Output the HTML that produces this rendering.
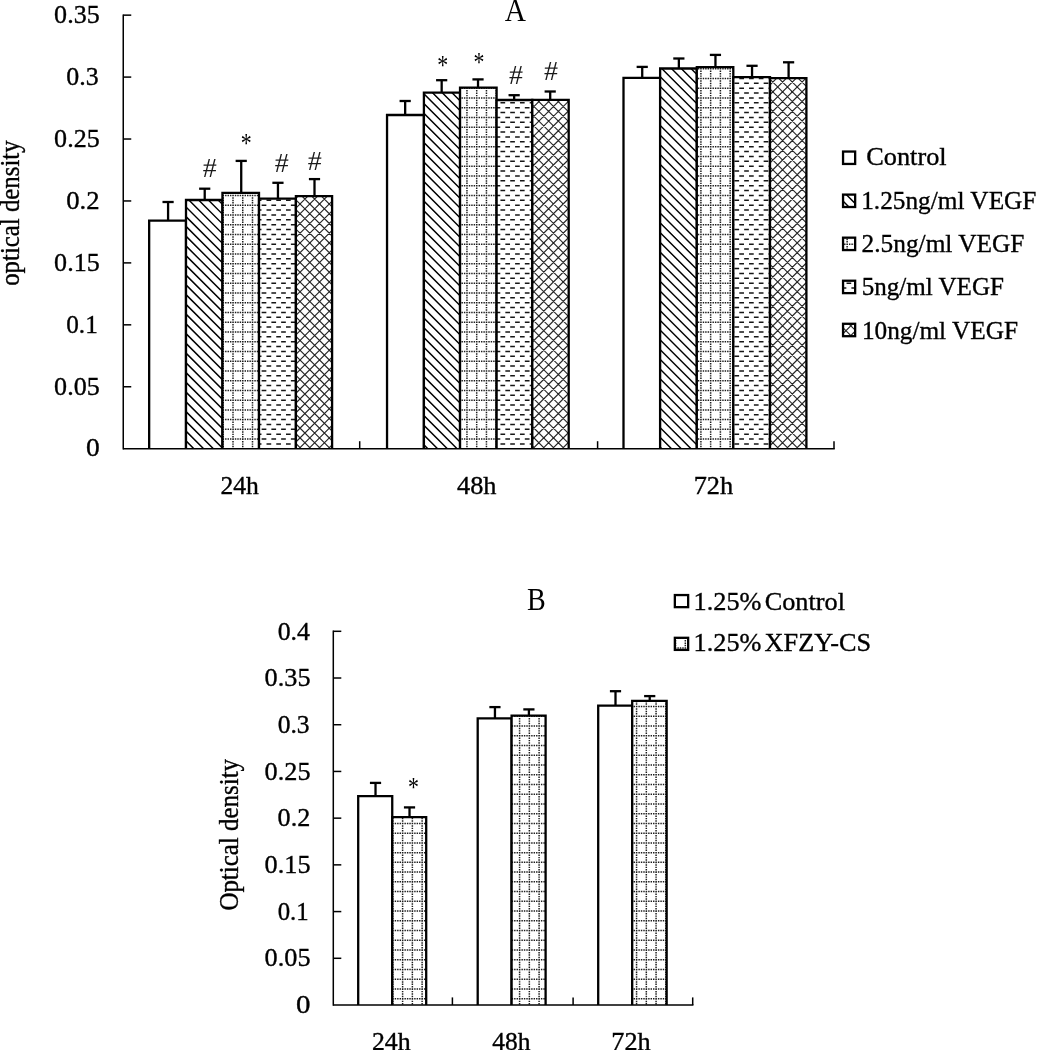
<!DOCTYPE html>
<html lang="en"><head><meta charset="utf-8"><title>Figure</title>
<style>html,body{margin:0;padding:0;background:#fff;}svg{display:block;}text{font-family:"Liberation Serif", "Times New Roman", Times, serif;fill:#000;stroke:#000;stroke-width:0.35px;}text.m{stroke:none;}text.h{fill:#1a1a1a;}</style></head><body>
<svg width="1037" height="1050" viewBox="0 0 1037 1050">
<rect x="0" y="0" width="1037" height="1050" fill="#fff"/>
<g id="chartA">
<text transform="translate(54.12 22.90) scale(1.0223 1)" font-size="25.5" >0.35</text>
<text transform="translate(66.23 84.84) scale(1.0168 1)" font-size="25.5" >0.3</text>
<text transform="translate(54.12 146.77) scale(1.0223 1)" font-size="25.5" >0.25</text>
<text transform="translate(66.20 208.71) scale(1.0469 1)" font-size="25.5" >0.2</text>
<text transform="translate(54.12 270.64) scale(1.0223 1)" font-size="25.5" >0.15</text>
<text transform="translate(66.25 332.58) scale(0.9902 1)" font-size="25.5" >0.1</text>
<text transform="translate(54.12 394.51) scale(1.0223 1)" font-size="25.5" >0.05</text>
<text transform="translate(85.97 456.45) scale(1.0796 1)" font-size="25.5" >0</text>
<text x="0.00" y="0.00" font-size="25.15" text-anchor="start" transform="translate(19 285.8) rotate(-90) scale(0.987 1.06)">optical density</text>
<text transform="translate(515.4 20.8) scale(1.09 1.15)" font-size="27" text-anchor="middle" class="m">A</text>
<line x1="168.08" y1="220.70" x2="168.08" y2="202.00" stroke="#000" stroke-width="2.3" stroke-linecap="butt"/>
<line x1="162.48" y1="202.00" x2="173.68" y2="202.00" stroke="#000" stroke-width="2.3" stroke-linecap="butt"/>
<line x1="204.72" y1="200.00" x2="204.72" y2="188.70" stroke="#000" stroke-width="2.3" stroke-linecap="butt"/>
<line x1="199.12" y1="188.70" x2="210.32" y2="188.70" stroke="#000" stroke-width="2.3" stroke-linecap="butt"/>
<line x1="241.22" y1="192.80" x2="241.22" y2="160.90" stroke="#000" stroke-width="2.3" stroke-linecap="butt"/>
<line x1="235.62" y1="160.90" x2="246.82" y2="160.90" stroke="#000" stroke-width="2.3" stroke-linecap="butt"/>
<line x1="277.95" y1="198.70" x2="277.95" y2="182.80" stroke="#000" stroke-width="2.3" stroke-linecap="butt"/>
<line x1="272.35" y1="182.80" x2="283.55" y2="182.80" stroke="#000" stroke-width="2.3" stroke-linecap="butt"/>
<line x1="314.50" y1="196.20" x2="314.50" y2="179.10" stroke="#000" stroke-width="2.3" stroke-linecap="butt"/>
<line x1="308.90" y1="179.10" x2="320.10" y2="179.10" stroke="#000" stroke-width="2.3" stroke-linecap="butt"/>
<rect x="149.16" y="220.70" width="36.84" height="228.00" fill="#fff"/>
<path d="M149.16,448.70V220.70H186.00V448.70" fill="none" stroke="#000" stroke-width="2.3" stroke-linejoin="miter"/>
<rect x="186.00" y="200.00" width="36.45" height="248.70" fill="#fff"/>
<clipPath id="c1"><rect x="186.00" y="200.00" width="36.45" height="248.70"/></clipPath>
<g clip-path="url(#c1)" fill="none" stroke="#000">
<path d="M185.00,166.91L223.45,205.36M185.00,176.66L223.45,215.11M185.00,186.41L223.45,224.86M185.00,196.16L223.45,234.61M185.00,205.91L223.45,244.36M185.00,215.65L223.45,254.10M185.00,225.40L223.45,263.85M185.00,235.15L223.45,273.60M185.00,244.90L223.45,283.35M185.00,254.65L223.45,293.10M185.00,264.39L223.45,302.84M185.00,274.14L223.45,312.59M185.00,283.89L223.45,322.34M185.00,293.64L223.45,332.09M185.00,303.39L223.45,341.84M185.00,313.13L223.45,351.58M185.00,322.88L223.45,361.33M185.00,332.63L223.45,371.08M185.00,342.38L223.45,380.83M185.00,352.13L223.45,390.58M185.00,361.87L223.45,400.32M185.00,371.62L223.45,410.07M185.00,381.37L223.45,419.82M185.00,391.12L223.45,429.57M185.00,400.87L223.45,439.32M185.00,410.61L223.45,449.06M185.00,420.36L223.45,458.81M185.00,430.11L223.45,468.56M185.00,439.86L223.45,478.31" stroke-width="1.45" stroke="#000"/>
</g>
<path d="M186.00,448.70V200.00H222.45V448.70" fill="none" stroke="#000" stroke-width="2.3" stroke-linejoin="miter"/>
<rect x="222.45" y="192.80" width="36.55" height="255.90" fill="#fff"/>
<clipPath id="c2"><rect x="222.45" y="192.80" width="36.55" height="255.90"/></clipPath>
<g clip-path="url(#c2)" fill="none" stroke="#000">
<path d="M220.21,195.42H260.00M220.21,205.17H260.00M220.21,214.92H260.00M220.21,224.66H260.00M220.21,234.41H260.00M220.21,244.16H260.00M220.21,253.91H260.00M220.21,263.66H260.00M220.21,273.40H260.00M220.21,283.15H260.00M220.21,292.90H260.00M220.21,302.65H260.00M220.21,312.40H260.00M220.21,322.14H260.00M220.21,331.89H260.00M220.21,341.64H260.00M220.21,351.39H260.00M220.21,361.14H260.00M220.21,370.88H260.00M220.21,380.63H260.00M220.21,390.38H260.00M220.21,400.13H260.00M220.21,409.88H260.00M220.21,419.62H260.00M220.21,429.37H260.00M220.21,439.12H260.00M220.21,448.87H260.00M223.25,192.37V449.70M233.00,192.37V449.70M242.75,192.37V449.70M252.50,192.37V449.70" stroke-width="1.5" stroke="#1e1e1e" stroke-dasharray="1.450 0.987"/>
</g>
<path d="M222.45,448.70V192.80H259.00V448.70" fill="none" stroke="#000" stroke-width="2.3" stroke-linejoin="miter"/>
<rect x="259.00" y="198.70" width="36.90" height="250.00" fill="#fff"/>
<clipPath id="c3"><rect x="259.00" y="198.70" width="36.90" height="250.00"/></clipPath>
<g clip-path="url(#c3)" fill="none" stroke="#000">
<path d="M242.14,205.17H296.90M242.14,214.92H296.90M242.14,224.66H296.90M242.14,234.41H296.90M242.14,244.16H296.90M242.14,253.91H296.90M242.14,263.66H296.90M242.14,273.40H296.90M242.14,283.15H296.90M242.14,292.90H296.90M242.14,302.65H296.90M242.14,312.40H296.90M242.14,322.14H296.90M242.14,331.89H296.90M242.14,341.64H296.90M242.14,351.39H296.90M242.14,361.14H296.90M242.14,370.88H296.90M242.14,380.63H296.90M242.14,390.38H296.90M242.14,400.13H296.90M242.14,409.88H296.90M242.14,419.62H296.90M242.14,429.37H296.90M242.14,439.12H296.90M242.14,448.87H296.90M247.01,200.29H296.90M247.01,210.04H296.90M247.01,219.79H296.90M247.01,229.54H296.90M247.01,239.29H296.90M247.01,249.03H296.90M247.01,258.78H296.90M247.01,268.53H296.90M247.01,278.28H296.90M247.01,288.03H296.90M247.01,297.77H296.90M247.01,307.52H296.90M247.01,317.27H296.90M247.01,327.02H296.90M247.01,336.77H296.90M247.01,346.51H296.90M247.01,356.26H296.90M247.01,366.01H296.90M247.01,375.76H296.90M247.01,385.51H296.90M247.01,395.25H296.90M247.01,405.00H296.90M247.01,414.75H296.90M247.01,424.50H296.90M247.01,434.25H296.90M247.01,443.99H296.90" stroke-width="1.5" stroke="#161616" stroke-dasharray="4.700 5.048"/>
</g>
<path d="M259.00,448.70V198.70H295.90V448.70" fill="none" stroke="#000" stroke-width="2.3" stroke-linejoin="miter"/>
<rect x="295.90" y="196.20" width="36.20" height="252.50" fill="#fff"/>
<clipPath id="c4"><rect x="295.90" y="196.20" width="36.20" height="252.50"/></clipPath>
<g clip-path="url(#c4)" fill="none" stroke="#000">
<path d="M294.90,159.84L333.10,198.04M294.90,169.59L333.10,207.79M294.90,179.33L333.10,217.53M294.90,189.08L333.10,227.28M294.90,198.83L333.10,237.03M294.90,208.58L333.10,246.78M294.90,218.33L333.10,256.53M294.90,228.07L333.10,266.27M294.90,237.82L333.10,276.02M294.90,247.57L333.10,285.77M294.90,257.32L333.10,295.52M294.90,267.07L333.10,305.27M294.90,276.81L333.10,315.01M294.90,286.56L333.10,324.76M294.90,296.31L333.10,334.51M294.90,306.06L333.10,344.26M294.90,315.81L333.10,354.01M294.90,325.55L333.10,363.75M294.90,335.30L333.10,373.50M294.90,345.05L333.10,383.25M294.90,354.80L333.10,393.00M294.90,364.55L333.10,402.75M294.90,374.29L333.10,412.49M294.90,384.04L333.10,422.24M294.90,393.79L333.10,431.99M294.90,403.54L333.10,441.74M294.90,413.29L333.10,451.49M294.90,423.03L333.10,461.23M294.90,432.78L333.10,470.98M294.90,442.53L333.10,480.73M294.90,199.32L333.10,161.12M294.90,209.07L333.10,170.87M294.90,218.82L333.10,180.62M294.90,228.57L333.10,190.37M294.90,238.31L333.10,200.11M294.90,248.06L333.10,209.86M294.90,257.81L333.10,219.61M294.90,267.56L333.10,229.36M294.90,277.31L333.10,239.11M294.90,287.05L333.10,248.85M294.90,296.80L333.10,258.60M294.90,306.55L333.10,268.35M294.90,316.30L333.10,278.10M294.90,326.05L333.10,287.85M294.90,335.79L333.10,297.59M294.90,345.54L333.10,307.34M294.90,355.29L333.10,317.09M294.90,365.04L333.10,326.84M294.90,374.79L333.10,336.59M294.90,384.53L333.10,346.33M294.90,394.28L333.10,356.08M294.90,404.03L333.10,365.83M294.90,413.78L333.10,375.58M294.90,423.53L333.10,385.33M294.90,433.27L333.10,395.07M294.90,443.02L333.10,404.82M294.90,452.77L333.10,414.57M294.90,462.52L333.10,424.32M294.90,472.27L333.10,434.07M294.90,482.01L333.10,443.81" stroke-width="1.15" stroke="#262626"/>
</g>
<path d="M295.90,448.70V196.20H332.10V448.70" fill="none" stroke="#000" stroke-width="2.3" stroke-linejoin="miter"/>
<line x1="405.17" y1="115.00" x2="405.17" y2="101.00" stroke="#000" stroke-width="2.3" stroke-linecap="butt"/>
<line x1="399.57" y1="101.00" x2="410.77" y2="101.00" stroke="#000" stroke-width="2.3" stroke-linecap="butt"/>
<line x1="441.67" y1="92.70" x2="441.67" y2="80.20" stroke="#000" stroke-width="2.3" stroke-linecap="butt"/>
<line x1="436.07" y1="80.20" x2="447.27" y2="80.20" stroke="#000" stroke-width="2.3" stroke-linecap="butt"/>
<line x1="478.02" y1="87.60" x2="478.02" y2="79.40" stroke="#000" stroke-width="2.3" stroke-linecap="butt"/>
<line x1="472.42" y1="79.40" x2="483.62" y2="79.40" stroke="#000" stroke-width="2.3" stroke-linecap="butt"/>
<line x1="514.15" y1="100.00" x2="514.15" y2="95.20" stroke="#000" stroke-width="2.3" stroke-linecap="butt"/>
<line x1="508.55" y1="95.20" x2="519.75" y2="95.20" stroke="#000" stroke-width="2.3" stroke-linecap="butt"/>
<line x1="550.20" y1="99.80" x2="550.20" y2="91.50" stroke="#000" stroke-width="2.3" stroke-linecap="butt"/>
<line x1="544.60" y1="91.50" x2="555.80" y2="91.50" stroke="#000" stroke-width="2.3" stroke-linecap="butt"/>
<rect x="387.04" y="115.00" width="36.86" height="333.70" fill="#fff"/>
<path d="M387.04,448.70V115.00H423.90V448.70" fill="none" stroke="#000" stroke-width="2.3" stroke-linejoin="miter"/>
<rect x="423.90" y="92.70" width="36.14" height="356.00" fill="#fff"/>
<clipPath id="c5"><rect x="423.90" y="92.70" width="36.14" height="356.00"/></clipPath>
<g clip-path="url(#c5)" fill="none" stroke="#000">
<path d="M422.90,63.63L461.04,101.77M422.90,73.38L461.04,111.52M422.90,83.13L461.04,121.27M422.90,92.88L461.04,131.02M422.90,102.63L461.04,140.77M422.90,112.37L461.04,150.51M422.90,122.12L461.04,160.26M422.90,131.87L461.04,170.01M422.90,141.62L461.04,179.76M422.90,151.37L461.04,189.51M422.90,161.11L461.04,199.25M422.90,170.86L461.04,209.00M422.90,180.61L461.04,218.75M422.90,190.36L461.04,228.50M422.90,200.11L461.04,238.25M422.90,209.85L461.04,247.99M422.90,219.60L461.04,257.74M422.90,229.35L461.04,267.49M422.90,239.10L461.04,277.24M422.90,248.85L461.04,286.99M422.90,258.59L461.04,296.73M422.90,268.34L461.04,306.48M422.90,278.09L461.04,316.23M422.90,287.84L461.04,325.98M422.90,297.59L461.04,335.73M422.90,307.33L461.04,345.47M422.90,317.08L461.04,355.22M422.90,326.83L461.04,364.97M422.90,336.58L461.04,374.72M422.90,346.33L461.04,384.47M422.90,356.07L461.04,394.21M422.90,365.82L461.04,403.96M422.90,375.57L461.04,413.71M422.90,385.32L461.04,423.46M422.90,395.07L461.04,433.21M422.90,404.81L461.04,442.95M422.90,414.56L461.04,452.70M422.90,424.31L461.04,462.45M422.90,434.06L461.04,472.20M422.90,443.81L461.04,481.95" stroke-width="1.45" stroke="#000"/>
</g>
<path d="M423.90,448.70V92.70H460.04V448.70" fill="none" stroke="#000" stroke-width="2.3" stroke-linejoin="miter"/>
<rect x="460.04" y="87.60" width="36.56" height="361.10" fill="#fff"/>
<clipPath id="c6"><rect x="460.04" y="87.60" width="36.56" height="361.10"/></clipPath>
<g clip-path="url(#c6)" fill="none" stroke="#000">
<path d="M459.03,88.19H497.60M459.03,97.94H497.60M459.03,107.69H497.60M459.03,117.44H497.60M459.03,127.18H497.60M459.03,136.93H497.60M459.03,146.68H497.60M459.03,156.43H497.60M459.03,166.18H497.60M459.03,175.92H497.60M459.03,185.67H497.60M459.03,195.42H497.60M459.03,205.17H497.60M459.03,214.92H497.60M459.03,224.66H497.60M459.03,234.41H497.60M459.03,244.16H497.60M459.03,253.91H497.60M459.03,263.66H497.60M459.03,273.40H497.60M459.03,283.15H497.60M459.03,292.90H497.60M459.03,302.65H497.60M459.03,312.40H497.60M459.03,322.14H497.60M459.03,331.89H497.60M459.03,341.64H497.60M459.03,351.39H497.60M459.03,361.14H497.60M459.03,370.88H497.60M459.03,380.63H497.60M459.03,390.38H497.60M459.03,400.13H497.60M459.03,409.88H497.60M459.03,419.62H497.60M459.03,429.37H497.60M459.03,439.12H497.60M459.03,448.87H497.60M466.95,87.58V449.70M476.70,87.58V449.70M486.45,87.58V449.70M496.20,87.58V449.70" stroke-width="1.5" stroke="#1e1e1e" stroke-dasharray="1.450 0.987"/>
</g>
<path d="M460.04,448.70V87.60H496.60V448.70" fill="none" stroke="#000" stroke-width="2.3" stroke-linejoin="miter"/>
<rect x="496.60" y="100.00" width="35.70" height="348.70" fill="#fff"/>
<clipPath id="c7"><rect x="496.60" y="100.00" width="35.70" height="348.70"/></clipPath>
<g clip-path="url(#c7)" fill="none" stroke="#000">
<path d="M485.84,107.69H533.30M485.84,117.44H533.30M485.84,127.18H533.30M485.84,136.93H533.30M485.84,146.68H533.30M485.84,156.43H533.30M485.84,166.18H533.30M485.84,175.92H533.30M485.84,185.67H533.30M485.84,195.42H533.30M485.84,205.17H533.30M485.84,214.92H533.30M485.84,224.66H533.30M485.84,234.41H533.30M485.84,244.16H533.30M485.84,253.91H533.30M485.84,263.66H533.30M485.84,273.40H533.30M485.84,283.15H533.30M485.84,292.90H533.30M485.84,302.65H533.30M485.84,312.40H533.30M485.84,322.14H533.30M485.84,331.89H533.30M485.84,341.64H533.30M485.84,351.39H533.30M485.84,361.14H533.30M485.84,370.88H533.30M485.84,380.63H533.30M485.84,390.38H533.30M485.84,400.13H533.30M485.84,409.88H533.30M485.84,419.62H533.30M485.84,429.37H533.30M485.84,439.12H533.30M485.84,448.87H533.30M490.71,102.81H533.30M490.71,112.56H533.30M490.71,122.31H533.30M490.71,132.06H533.30M490.71,141.81H533.30M490.71,151.55H533.30M490.71,161.30H533.30M490.71,171.05H533.30M490.71,180.80H533.30M490.71,190.55H533.30M490.71,200.29H533.30M490.71,210.04H533.30M490.71,219.79H533.30M490.71,229.54H533.30M490.71,239.29H533.30M490.71,249.03H533.30M490.71,258.78H533.30M490.71,268.53H533.30M490.71,278.28H533.30M490.71,288.03H533.30M490.71,297.77H533.30M490.71,307.52H533.30M490.71,317.27H533.30M490.71,327.02H533.30M490.71,336.77H533.30M490.71,346.51H533.30M490.71,356.26H533.30M490.71,366.01H533.30M490.71,375.76H533.30M490.71,385.51H533.30M490.71,395.25H533.30M490.71,405.00H533.30M490.71,414.75H533.30M490.71,424.50H533.30M490.71,434.25H533.30M490.71,443.99H533.30" stroke-width="1.5" stroke="#161616" stroke-dasharray="4.700 5.048"/>
</g>
<path d="M496.60,448.70V100.00H532.30V448.70" fill="none" stroke="#000" stroke-width="2.3" stroke-linejoin="miter"/>
<rect x="532.30" y="99.80" width="36.40" height="348.90" fill="#fff"/>
<clipPath id="c8"><rect x="532.30" y="99.80" width="36.40" height="348.90"/></clipPath>
<g clip-path="url(#c8)" fill="none" stroke="#000">
<path d="M531.30,64.81L569.70,103.21M531.30,74.55L569.70,112.95M531.30,84.30L569.70,122.70M531.30,94.05L569.70,132.45M531.30,103.80L569.70,142.20M531.30,113.55L569.70,151.95M531.30,123.29L569.70,161.69M531.30,133.04L569.70,171.44M531.30,142.79L569.70,181.19M531.30,152.54L569.70,190.94M531.30,162.29L569.70,200.69M531.30,172.03L569.70,210.43M531.30,181.78L569.70,220.18M531.30,191.53L569.70,229.93M531.30,201.28L569.70,239.68M531.30,211.03L569.70,249.43M531.30,220.77L569.70,259.17M531.30,230.52L569.70,268.92M531.30,240.27L569.70,278.67M531.30,250.02L569.70,288.42M531.30,259.77L569.70,298.17M531.30,269.51L569.70,307.91M531.30,279.26L569.70,317.66M531.30,289.01L569.70,327.41M531.30,298.76L569.70,337.16M531.30,308.51L569.70,346.91M531.30,318.25L569.70,356.65M531.30,328.00L569.70,366.40M531.30,337.75L569.70,376.15M531.30,347.50L569.70,385.90M531.30,357.25L569.70,395.65M531.30,366.99L569.70,405.39M531.30,376.74L569.70,415.14M531.30,386.49L569.70,424.89M531.30,396.24L569.70,434.64M531.30,405.99L569.70,444.39M531.30,415.73L569.70,454.13M531.30,425.48L569.70,463.88M531.30,435.23L569.70,473.63M531.30,444.98L569.70,483.38M531.30,109.14L569.70,70.74M531.30,118.89L569.70,80.49M531.30,128.64L569.70,90.24M531.30,138.39L569.70,99.99M531.30,148.13L569.70,109.73M531.30,157.88L569.70,119.48M531.30,167.63L569.70,129.23M531.30,177.38L569.70,138.98M531.30,187.13L569.70,148.73M531.30,196.87L569.70,158.47M531.30,206.62L569.70,168.22M531.30,216.37L569.70,177.97M531.30,226.12L569.70,187.72M531.30,235.87L569.70,197.47M531.30,245.61L569.70,207.21M531.30,255.36L569.70,216.96M531.30,265.11L569.70,226.71M531.30,274.86L569.70,236.46M531.30,284.61L569.70,246.21M531.30,294.35L569.70,255.95M531.30,304.10L569.70,265.70M531.30,313.85L569.70,275.45M531.30,323.60L569.70,285.20M531.30,333.35L569.70,294.95M531.30,343.09L569.70,304.69M531.30,352.84L569.70,314.44M531.30,362.59L569.70,324.19M531.30,372.34L569.70,333.94M531.30,382.09L569.70,343.69M531.30,391.83L569.70,353.43M531.30,401.58L569.70,363.18M531.30,411.33L569.70,372.93M531.30,421.08L569.70,382.68M531.30,430.83L569.70,392.43M531.30,440.57L569.70,402.17M531.30,450.32L569.70,411.92M531.30,460.07L569.70,421.67M531.30,469.82L569.70,431.42M531.30,479.57L569.70,441.17" stroke-width="1.15" stroke="#262626"/>
</g>
<path d="M532.30,448.70V99.80H568.70V448.70" fill="none" stroke="#000" stroke-width="2.3" stroke-linejoin="miter"/>
<line x1="642.22" y1="77.90" x2="642.22" y2="66.90" stroke="#000" stroke-width="2.3" stroke-linecap="butt"/>
<line x1="636.62" y1="66.90" x2="647.82" y2="66.90" stroke="#000" stroke-width="2.3" stroke-linecap="butt"/>
<line x1="678.86" y1="68.50" x2="678.86" y2="58.50" stroke="#000" stroke-width="2.3" stroke-linecap="butt"/>
<line x1="673.26" y1="58.50" x2="684.46" y2="58.50" stroke="#000" stroke-width="2.3" stroke-linecap="butt"/>
<line x1="715.45" y1="67.20" x2="715.45" y2="54.90" stroke="#000" stroke-width="2.3" stroke-linecap="butt"/>
<line x1="709.85" y1="54.90" x2="721.05" y2="54.90" stroke="#000" stroke-width="2.3" stroke-linecap="butt"/>
<line x1="752.05" y1="77.10" x2="752.05" y2="65.80" stroke="#000" stroke-width="2.3" stroke-linecap="butt"/>
<line x1="746.45" y1="65.80" x2="757.65" y2="65.80" stroke="#000" stroke-width="2.3" stroke-linecap="butt"/>
<line x1="788.60" y1="78.10" x2="788.60" y2="62.30" stroke="#000" stroke-width="2.3" stroke-linecap="butt"/>
<line x1="783.00" y1="62.30" x2="794.20" y2="62.30" stroke="#000" stroke-width="2.3" stroke-linecap="butt"/>
<rect x="623.50" y="77.90" width="36.63" height="370.80" fill="#fff"/>
<path d="M623.50,448.70V77.90H660.13V448.70" fill="none" stroke="#000" stroke-width="2.3" stroke-linejoin="miter"/>
<rect x="660.13" y="68.50" width="36.67" height="380.20" fill="#fff"/>
<clipPath id="c9"><rect x="660.13" y="68.50" width="36.67" height="380.20"/></clipPath>
<g clip-path="url(#c9)" fill="none" stroke="#000">
<path d="M659.13,36.67L697.80,75.34M659.13,46.42L697.80,85.09M659.13,56.16L697.80,94.83M659.13,65.91L697.80,104.58M659.13,75.66L697.80,114.33M659.13,85.41L697.80,124.08M659.13,95.16L697.80,133.83M659.13,104.90L697.80,143.57M659.13,114.65L697.80,153.32M659.13,124.40L697.80,163.07M659.13,134.15L697.80,172.82M659.13,143.90L697.80,182.57M659.13,153.64L697.80,192.31M659.13,163.39L697.80,202.06M659.13,173.14L697.80,211.81M659.13,182.89L697.80,221.56M659.13,192.64L697.80,231.31M659.13,202.38L697.80,241.05M659.13,212.13L697.80,250.80M659.13,221.88L697.80,260.55M659.13,231.63L697.80,270.30M659.13,241.38L697.80,280.05M659.13,251.12L697.80,289.79M659.13,260.87L697.80,299.54M659.13,270.62L697.80,309.29M659.13,280.37L697.80,319.04M659.13,290.12L697.80,328.79M659.13,299.86L697.80,338.53M659.13,309.61L697.80,348.28M659.13,319.36L697.80,358.03M659.13,329.11L697.80,367.78M659.13,338.86L697.80,377.53M659.13,348.60L697.80,387.27M659.13,358.35L697.80,397.02M659.13,368.10L697.80,406.77M659.13,377.85L697.80,416.52M659.13,387.60L697.80,426.27M659.13,397.34L697.80,436.01M659.13,407.09L697.80,445.76M659.13,416.84L697.80,455.51M659.13,426.59L697.80,465.26M659.13,436.34L697.80,475.01M659.13,446.08L697.80,484.75" stroke-width="1.45" stroke="#000"/>
</g>
<path d="M660.13,448.70V68.50H696.80V448.70" fill="none" stroke="#000" stroke-width="2.3" stroke-linejoin="miter"/>
<rect x="696.80" y="67.20" width="36.50" height="381.50" fill="#fff"/>
<clipPath id="c10"><rect x="696.80" y="67.20" width="36.50" height="381.50"/></clipPath>
<g clip-path="url(#c10)" fill="none" stroke="#000">
<path d="M695.42,68.70H734.30M695.42,78.44H734.30M695.42,88.19H734.30M695.42,97.94H734.30M695.42,107.69H734.30M695.42,117.44H734.30M695.42,127.18H734.30M695.42,136.93H734.30M695.42,146.68H734.30M695.42,156.43H734.30M695.42,166.18H734.30M695.42,175.92H734.30M695.42,185.67H734.30M695.42,195.42H734.30M695.42,205.17H734.30M695.42,214.92H734.30M695.42,224.66H734.30M695.42,234.41H734.30M695.42,244.16H734.30M695.42,253.91H734.30M695.42,263.66H734.30M695.42,273.40H734.30M695.42,283.15H734.30M695.42,292.90H734.30M695.42,302.65H734.30M695.42,312.40H734.30M695.42,322.14H734.30M695.42,331.89H734.30M695.42,341.64H734.30M695.42,351.39H734.30M695.42,361.14H734.30M695.42,370.88H734.30M695.42,380.63H734.30M695.42,390.38H734.30M695.42,400.13H734.30M695.42,409.88H734.30M695.42,419.62H734.30M695.42,429.37H734.30M695.42,439.12H734.30M695.42,448.87H734.30M700.91,65.65V449.70M710.65,65.65V449.70M720.40,65.65V449.70M730.15,65.65V449.70" stroke-width="1.5" stroke="#1e1e1e" stroke-dasharray="1.450 0.987"/>
</g>
<path d="M696.80,448.70V67.20H733.30V448.70" fill="none" stroke="#000" stroke-width="2.3" stroke-linejoin="miter"/>
<rect x="733.30" y="77.10" width="36.70" height="371.60" fill="#fff"/>
<clipPath id="c11"><rect x="733.30" y="77.10" width="36.70" height="371.60"/></clipPath>
<g clip-path="url(#c11)" fill="none" stroke="#000">
<path d="M719.79,78.44H771.00M719.79,88.19H771.00M719.79,97.94H771.00M719.79,107.69H771.00M719.79,117.44H771.00M719.79,127.18H771.00M719.79,136.93H771.00M719.79,146.68H771.00M719.79,156.43H771.00M719.79,166.18H771.00M719.79,175.92H771.00M719.79,185.67H771.00M719.79,195.42H771.00M719.79,205.17H771.00M719.79,214.92H771.00M719.79,224.66H771.00M719.79,234.41H771.00M719.79,244.16H771.00M719.79,253.91H771.00M719.79,263.66H771.00M719.79,273.40H771.00M719.79,283.15H771.00M719.79,292.90H771.00M719.79,302.65H771.00M719.79,312.40H771.00M719.79,322.14H771.00M719.79,331.89H771.00M719.79,341.64H771.00M719.79,351.39H771.00M719.79,361.14H771.00M719.79,370.88H771.00M719.79,380.63H771.00M719.79,390.38H771.00M719.79,400.13H771.00M719.79,409.88H771.00M719.79,419.62H771.00M719.79,429.37H771.00M719.79,439.12H771.00M719.79,448.87H771.00M724.67,83.32H771.00M724.67,93.07H771.00M724.67,102.81H771.00M724.67,112.56H771.00M724.67,122.31H771.00M724.67,132.06H771.00M724.67,141.81H771.00M724.67,151.55H771.00M724.67,161.30H771.00M724.67,171.05H771.00M724.67,180.80H771.00M724.67,190.55H771.00M724.67,200.29H771.00M724.67,210.04H771.00M724.67,219.79H771.00M724.67,229.54H771.00M724.67,239.29H771.00M724.67,249.03H771.00M724.67,258.78H771.00M724.67,268.53H771.00M724.67,278.28H771.00M724.67,288.03H771.00M724.67,297.77H771.00M724.67,307.52H771.00M724.67,317.27H771.00M724.67,327.02H771.00M724.67,336.77H771.00M724.67,346.51H771.00M724.67,356.26H771.00M724.67,366.01H771.00M724.67,375.76H771.00M724.67,385.51H771.00M724.67,395.25H771.00M724.67,405.00H771.00M724.67,414.75H771.00M724.67,424.50H771.00M724.67,434.25H771.00M724.67,443.99H771.00" stroke-width="1.5" stroke="#161616" stroke-dasharray="4.700 5.048"/>
</g>
<path d="M733.30,448.70V77.10H770.00V448.70" fill="none" stroke="#000" stroke-width="2.3" stroke-linejoin="miter"/>
<rect x="770.00" y="78.10" width="36.40" height="370.60" fill="#fff"/>
<clipPath id="c12"><rect x="770.00" y="78.10" width="36.40" height="370.60"/></clipPath>
<g clip-path="url(#c12)" fill="none" stroke="#000">
<path d="M769.00,49.06L807.40,87.46M769.00,58.81L807.40,97.21M769.00,68.55L807.40,106.95M769.00,78.30L807.40,116.70M769.00,88.05L807.40,126.45M769.00,97.80L807.40,136.20M769.00,107.55L807.40,145.95M769.00,117.29L807.40,155.69M769.00,127.04L807.40,165.44M769.00,136.79L807.40,175.19M769.00,146.54L807.40,184.94M769.00,156.29L807.40,194.69M769.00,166.03L807.40,204.43M769.00,175.78L807.40,214.18M769.00,185.53L807.40,223.93M769.00,195.28L807.40,233.68M769.00,205.03L807.40,243.43M769.00,214.77L807.40,253.17M769.00,224.52L807.40,262.92M769.00,234.27L807.40,272.67M769.00,244.02L807.40,282.42M769.00,253.77L807.40,292.17M769.00,263.51L807.40,301.91M769.00,273.26L807.40,311.66M769.00,283.01L807.40,321.41M769.00,292.76L807.40,331.16M769.00,302.51L807.40,340.91M769.00,312.25L807.40,350.65M769.00,322.00L807.40,360.40M769.00,331.75L807.40,370.15M769.00,341.50L807.40,379.90M769.00,351.25L807.40,389.65M769.00,360.99L807.40,399.39M769.00,370.74L807.40,409.14M769.00,380.49L807.40,418.89M769.00,390.24L807.40,428.64M769.00,399.99L807.40,438.39M769.00,409.73L807.40,448.13M769.00,419.48L807.40,457.88M769.00,429.23L807.40,467.63M769.00,438.98L807.40,477.38M769.00,85.90L807.40,47.50M769.00,95.64L807.40,57.25M769.00,105.39L807.40,66.99M769.00,115.14L807.40,76.74M769.00,124.89L807.40,86.49M769.00,134.64L807.40,96.24M769.00,144.39L807.40,105.99M769.00,154.13L807.40,115.73M769.00,163.88L807.40,125.48M769.00,173.63L807.40,135.23M769.00,183.38L807.40,144.98M769.00,193.13L807.40,154.73M769.00,202.87L807.40,164.47M769.00,212.62L807.40,174.22M769.00,222.37L807.40,183.97M769.00,232.12L807.40,193.72M769.00,241.87L807.40,203.47M769.00,251.61L807.40,213.21M769.00,261.36L807.40,222.96M769.00,271.11L807.40,232.71M769.00,280.86L807.40,242.46M769.00,290.61L807.40,252.21M769.00,300.35L807.40,261.95M769.00,310.10L807.40,271.70M769.00,319.85L807.40,281.45M769.00,329.60L807.40,291.20M769.00,339.35L807.40,300.95M769.00,349.09L807.40,310.69M769.00,358.84L807.40,320.44M769.00,368.59L807.40,330.19M769.00,378.34L807.40,339.94M769.00,388.09L807.40,349.69M769.00,397.83L807.40,359.43M769.00,407.58L807.40,369.18M769.00,417.33L807.40,378.93M769.00,427.08L807.40,388.68M769.00,436.83L807.40,398.43M769.00,446.57L807.40,408.17M769.00,456.32L807.40,417.92M769.00,466.07L807.40,427.67M769.00,475.82L807.40,437.42M769.00,485.57L807.40,447.17" stroke-width="1.15" stroke="#262626"/>
</g>
<path d="M770.00,448.70V78.10H806.40V448.70" fill="none" stroke="#000" stroke-width="2.3" stroke-linejoin="miter"/>
<line x1="123.25" y1="14.40" x2="123.25" y2="449.45" stroke="#000" stroke-width="1.5" stroke-linecap="butt"/>
<line x1="123.25" y1="448.70" x2="834.75" y2="448.70" stroke="#000" stroke-width="1.5" stroke-linecap="butt"/>
<line x1="123.25" y1="15.15" x2="131.25" y2="15.15" stroke="#000" stroke-width="1.5" stroke-linecap="butt"/>
<line x1="123.25" y1="77.09" x2="131.25" y2="77.09" stroke="#000" stroke-width="1.5" stroke-linecap="butt"/>
<line x1="123.25" y1="139.02" x2="131.25" y2="139.02" stroke="#000" stroke-width="1.5" stroke-linecap="butt"/>
<line x1="123.25" y1="200.96" x2="131.25" y2="200.96" stroke="#000" stroke-width="1.5" stroke-linecap="butt"/>
<line x1="123.25" y1="262.89" x2="131.25" y2="262.89" stroke="#000" stroke-width="1.5" stroke-linecap="butt"/>
<line x1="123.25" y1="324.83" x2="131.25" y2="324.83" stroke="#000" stroke-width="1.5" stroke-linecap="butt"/>
<line x1="123.25" y1="386.76" x2="131.25" y2="386.76" stroke="#000" stroke-width="1.5" stroke-linecap="butt"/>
<line x1="359.70" y1="448.70" x2="359.70" y2="441.20" stroke="#000" stroke-width="1.5" stroke-linecap="butt"/>
<line x1="597.60" y1="448.70" x2="597.60" y2="441.20" stroke="#000" stroke-width="1.5" stroke-linecap="butt"/>
<line x1="834.00" y1="448.70" x2="834.00" y2="441.20" stroke="#000" stroke-width="1.5" stroke-linecap="butt"/>
<text transform="translate(220.41 493.50) scale(1.0325 1)" font-size="24.8" >24h</text>
<text transform="translate(457.07 493.50) scale(1.0606 1)" font-size="24.8" >48h</text>
<text transform="translate(693.69 493.50) scale(1.0630 1)" font-size="24.8" >72h</text>
<text transform="translate(209.00 176.70) skewX(-4)" font-size="27.5" text-anchor="middle" class="m h">#</text>
<text transform="translate(281.10 171.80) skewX(-4)" font-size="27.5" text-anchor="middle" class="m h">#</text>
<text transform="translate(314.10 169.50) skewX(-4)" font-size="27.5" text-anchor="middle" class="m h">#</text>
<text transform="translate(246.30 152.11) scale(0.95 1.2)" font-size="23.0" text-anchor="middle" class="m">*</text>
<text transform="translate(442.70 74.41) scale(0.95 1.2)" font-size="23.0" text-anchor="middle" class="m">*</text>
<text transform="translate(479.00 70.71) scale(0.95 1.2)" font-size="23.0" text-anchor="middle" class="m">*</text>
<text transform="translate(515.30 84.00) skewX(-4)" font-size="27.5" text-anchor="middle" class="m h">#</text>
<text transform="translate(550.30 80.30) skewX(-4)" font-size="27.5" text-anchor="middle" class="m h">#</text>
<rect x="843.05" y="151.55" width="12.1" height="12.4" fill="#fff"/>
<rect x="843.05" y="151.55" width="12.1" height="12.4" fill="none" stroke="#000" stroke-width="2.3"/>
<text transform="translate(866.25 165.40) scale(1.0318 1)" font-size="25.5" >Control</text>
<rect x="843.05" y="194.61" width="12.1" height="12.4" fill="#fff"/>
<clipPath id="c13"><rect x="843.05" y="194.61" width="12.10" height="12.40"/></clipPath>
<g clip-path="url(#c13)" fill="none" stroke="#000">
<path d="M842.05,180.60L856.15,194.70M842.05,190.34L856.15,204.44M842.05,200.09L856.15,214.19" stroke-width="1.45" stroke="#000"/>
</g>
<rect x="843.05" y="194.61" width="12.1" height="12.4" fill="none" stroke="#000" stroke-width="2.3"/>
<text transform="translate(861.19 209.30) scale(0.9927 1)" font-size="25.5" >1.25ng/ml VEGF</text>
<rect x="843.05" y="237.67" width="12.1" height="12.4" fill="#fff"/>
<clipPath id="c14"><rect x="843.05" y="237.67" width="12.10" height="12.40"/></clipPath>
<g clip-path="url(#c14)" fill="none" stroke="#000">
<path d="M841.64,244.16H856.15M847.13,236.24V251.07" stroke-width="1.5" stroke="#1e1e1e" stroke-dasharray="1.450 0.987"/>
</g>
<rect x="843.05" y="237.67" width="12.1" height="12.4" fill="none" stroke="#000" stroke-width="2.3"/>
<text transform="translate(861.62 252.10) scale(0.9941 1)" font-size="25.5" >2.5ng/ml VEGF</text>
<rect x="843.05" y="280.73" width="12.1" height="12.4" fill="#fff"/>
<clipPath id="c15"><rect x="843.05" y="280.73" width="12.10" height="12.40"/></clipPath>
<g clip-path="url(#c15)" fill="none" stroke="#000">
<path d="M827.02,283.15H856.15M827.02,292.90H856.15M831.89,288.03H856.15" stroke-width="1.5" stroke="#161616" stroke-dasharray="4.700 5.048"/>
</g>
<rect x="843.05" y="280.73" width="12.1" height="12.4" fill="none" stroke="#000" stroke-width="2.3"/>
<text transform="translate(861.66 294.70) scale(0.9835 1)" font-size="25.5" >5ng/ml VEGF</text>
<rect x="843.05" y="323.79" width="12.1" height="12.4" fill="#fff"/>
<clipPath id="c16"><rect x="843.05" y="323.79" width="12.10" height="12.40"/></clipPath>
<g clip-path="url(#c16)" fill="none" stroke="#000">
<path d="M842.05,317.07L856.15,331.17M842.05,326.82L856.15,340.92M842.05,324.78L856.15,310.68M842.05,334.53L856.15,320.43M842.05,344.28L856.15,330.18" stroke-width="1.15" stroke="#262626"/>
</g>
<rect x="843.05" y="323.79" width="12.1" height="12.4" fill="none" stroke="#000" stroke-width="2.3"/>
<text transform="translate(861.89 338.60) scale(0.9920 1)" font-size="25.5" >10ng/ml VEGF</text>
</g>
<g id="chartB">
<text transform="translate(277.63 639.50) scale(1.0119 1)" font-size="25.5" >0.4</text>
<text transform="translate(264.62 686.21) scale(1.0293 1)" font-size="25.5" >0.35</text>
<text transform="translate(277.64 732.92) scale(1.0034 1)" font-size="25.5" >0.3</text>
<text transform="translate(264.62 779.64) scale(1.0293 1)" font-size="25.5" >0.25</text>
<text transform="translate(277.62 826.35) scale(1.0266 1)" font-size="25.5" >0.2</text>
<text transform="translate(264.62 873.06) scale(1.0293 1)" font-size="25.5" >0.15</text>
<text transform="translate(277.67 919.78) scale(0.9732 1)" font-size="25.5" >0.1</text>
<text transform="translate(264.62 966.49) scale(1.0293 1)" font-size="25.5" >0.05</text>
<text transform="translate(296.11 1013.20) scale(1.1349 1)" font-size="25.5" >0</text>
<text x="0.00" y="0.00" font-size="25.2" text-anchor="start" transform="translate(237.6 910.6) rotate(-90) scale(0.99 1.06)">Optical density</text>
<text transform="translate(536.3 609.9) scale(1.04 1.13)" font-size="27" text-anchor="middle" class="m">B</text>
<line x1="375.52" y1="796.20" x2="375.52" y2="782.90" stroke="#000" stroke-width="2.3" stroke-linecap="butt"/>
<line x1="369.92" y1="782.90" x2="381.12" y2="782.90" stroke="#000" stroke-width="2.3" stroke-linecap="butt"/>
<line x1="409.52" y1="817.20" x2="409.52" y2="807.40" stroke="#000" stroke-width="2.3" stroke-linecap="butt"/>
<line x1="403.92" y1="807.40" x2="415.12" y2="807.40" stroke="#000" stroke-width="2.3" stroke-linecap="butt"/>
<rect x="358.20" y="796.20" width="34.04" height="208.80" fill="#fff"/>
<path d="M358.20,1005.00V796.20H392.24V1005.00" fill="none" stroke="#000" stroke-width="2.3" stroke-linejoin="miter"/>
<rect x="392.24" y="817.20" width="33.96" height="187.80" fill="#fff"/>
<clipPath id="c17"><rect x="392.24" y="817.20" width="33.96" height="187.80"/></clipPath>
<g clip-path="url(#c17)" fill="none" stroke="#000">
<path d="M389.82,823.38H427.20M389.82,833.13H427.20M389.82,842.88H427.20M389.82,852.63H427.20M389.82,862.37H427.20M389.82,872.12H427.20M389.82,881.87H427.20M389.82,891.62H427.20M389.82,901.37H427.20M389.82,911.11H427.20M389.82,920.86H427.20M389.82,930.61H427.20M389.82,940.36H427.20M389.82,950.11H427.20M389.82,959.85H427.20M389.82,969.60H427.20M389.82,979.35H427.20M389.82,989.10H427.20M389.82,998.85H427.20M392.87,815.46V1006.00M402.62,815.46V1006.00M412.37,815.46V1006.00M422.11,815.46V1006.00" stroke-width="1.5" stroke="#1e1e1e" stroke-dasharray="1.450 0.987"/>
</g>
<path d="M392.24,1005.00V817.20H426.20V1005.00" fill="none" stroke="#000" stroke-width="2.3" stroke-linejoin="miter"/>
<line x1="494.95" y1="718.40" x2="494.95" y2="707.10" stroke="#000" stroke-width="2.3" stroke-linecap="butt"/>
<line x1="489.35" y1="707.10" x2="500.55" y2="707.10" stroke="#000" stroke-width="2.3" stroke-linecap="butt"/>
<line x1="528.90" y1="715.70" x2="528.90" y2="709.40" stroke="#000" stroke-width="2.3" stroke-linecap="butt"/>
<line x1="523.30" y1="709.40" x2="534.50" y2="709.40" stroke="#000" stroke-width="2.3" stroke-linecap="butt"/>
<rect x="477.70" y="718.40" width="33.90" height="286.60" fill="#fff"/>
<path d="M477.70,1005.00V718.40H511.60V1005.00" fill="none" stroke="#000" stroke-width="2.3" stroke-linejoin="miter"/>
<rect x="511.60" y="715.70" width="34.00" height="289.30" fill="#fff"/>
<clipPath id="c18"><rect x="511.60" y="715.70" width="34.00" height="289.30"/></clipPath>
<g clip-path="url(#c18)" fill="none" stroke="#000">
<path d="M509.24,716.15H546.60M509.24,725.90H546.60M509.24,735.65H546.60M509.24,745.40H546.60M509.24,755.15H546.60M509.24,764.89H546.60M509.24,774.64H546.60M509.24,784.39H546.60M509.24,794.14H546.60M509.24,803.89H546.60M509.24,813.63H546.60M509.24,823.38H546.60M509.24,833.13H546.60M509.24,842.88H546.60M509.24,852.63H546.60M509.24,862.37H546.60M509.24,872.12H546.60M509.24,881.87H546.60M509.24,891.62H546.60M509.24,901.37H546.60M509.24,911.11H546.60M509.24,920.86H546.60M509.24,930.61H546.60M509.24,940.36H546.60M509.24,950.11H546.60M509.24,959.85H546.60M509.24,969.60H546.60M509.24,979.35H546.60M509.24,989.10H546.60M509.24,998.85H546.60M519.59,715.54V1006.00M529.34,715.54V1006.00M539.09,715.54V1006.00" stroke-width="1.5" stroke="#1e1e1e" stroke-dasharray="1.450 0.987"/>
</g>
<path d="M511.60,1005.00V715.70H545.60V1005.00" fill="none" stroke="#000" stroke-width="2.3" stroke-linejoin="miter"/>
<line x1="615.50" y1="705.70" x2="615.50" y2="691.20" stroke="#000" stroke-width="2.3" stroke-linecap="butt"/>
<line x1="609.90" y1="691.20" x2="621.10" y2="691.20" stroke="#000" stroke-width="2.3" stroke-linecap="butt"/>
<line x1="649.72" y1="700.90" x2="649.72" y2="696.10" stroke="#000" stroke-width="2.3" stroke-linecap="butt"/>
<line x1="644.12" y1="696.10" x2="655.32" y2="696.10" stroke="#000" stroke-width="2.3" stroke-linecap="butt"/>
<rect x="598.20" y="705.70" width="34.00" height="299.30" fill="#fff"/>
<path d="M598.20,1005.00V705.70H632.20V1005.00" fill="none" stroke="#000" stroke-width="2.3" stroke-linejoin="miter"/>
<rect x="632.20" y="700.90" width="34.45" height="304.10" fill="#fff"/>
<clipPath id="c19"><rect x="632.20" y="700.90" width="34.45" height="304.10"/></clipPath>
<g clip-path="url(#c19)" fill="none" stroke="#000">
<path d="M631.09,706.41H667.65M631.09,716.15H667.65M631.09,725.90H667.65M631.09,735.65H667.65M631.09,745.40H667.65M631.09,755.15H667.65M631.09,764.89H667.65M631.09,774.64H667.65M631.09,784.39H667.65M631.09,794.14H667.65M631.09,803.89H667.65M631.09,813.63H667.65M631.09,823.38H667.65M631.09,833.13H667.65M631.09,842.88H667.65M631.09,852.63H667.65M631.09,862.37H667.65M631.09,872.12H667.65M631.09,881.87H667.65M631.09,891.62H667.65M631.09,901.37H667.65M631.09,911.11H667.65M631.09,920.86H667.65M631.09,930.61H667.65M631.09,940.36H667.65M631.09,950.11H667.65M631.09,959.85H667.65M631.09,969.60H667.65M631.09,979.35H667.65M631.09,989.10H667.65M631.09,998.85H667.65M636.57,698.49V1006.00M646.32,698.49V1006.00M656.07,698.49V1006.00M665.81,698.49V1006.00" stroke-width="1.5" stroke="#1e1e1e" stroke-dasharray="1.450 0.987"/>
</g>
<path d="M632.20,1005.00V700.90H666.65V1005.00" fill="none" stroke="#000" stroke-width="2.3" stroke-linejoin="miter"/>
<line x1="333.30" y1="630.55" x2="333.30" y2="1005.75" stroke="#000" stroke-width="1.5" stroke-linecap="butt"/>
<line x1="333.30" y1="1005.00" x2="693.45" y2="1005.00" stroke="#000" stroke-width="1.5" stroke-linecap="butt"/>
<line x1="333.30" y1="631.30" x2="341.30" y2="631.30" stroke="#000" stroke-width="1.5" stroke-linecap="butt"/>
<line x1="333.30" y1="678.01" x2="341.30" y2="678.01" stroke="#000" stroke-width="1.5" stroke-linecap="butt"/>
<line x1="333.30" y1="724.72" x2="341.30" y2="724.72" stroke="#000" stroke-width="1.5" stroke-linecap="butt"/>
<line x1="333.30" y1="771.44" x2="341.30" y2="771.44" stroke="#000" stroke-width="1.5" stroke-linecap="butt"/>
<line x1="333.30" y1="818.15" x2="341.30" y2="818.15" stroke="#000" stroke-width="1.5" stroke-linecap="butt"/>
<line x1="333.30" y1="864.86" x2="341.30" y2="864.86" stroke="#000" stroke-width="1.5" stroke-linecap="butt"/>
<line x1="333.30" y1="911.58" x2="341.30" y2="911.58" stroke="#000" stroke-width="1.5" stroke-linecap="butt"/>
<line x1="333.30" y1="958.29" x2="341.30" y2="958.29" stroke="#000" stroke-width="1.5" stroke-linecap="butt"/>
<line x1="452.40" y1="1005.00" x2="452.40" y2="997.40" stroke="#000" stroke-width="1.5" stroke-linecap="butt"/>
<line x1="573.10" y1="1005.00" x2="573.10" y2="997.40" stroke="#000" stroke-width="1.5" stroke-linecap="butt"/>
<line x1="692.70" y1="1005.00" x2="692.70" y2="997.40" stroke="#000" stroke-width="1.5" stroke-linecap="butt"/>
<text transform="translate(371.90 1049.80) scale(1.0409 1)" font-size="24.8" >24h</text>
<text transform="translate(492.29 1049.80) scale(1.0249 1)" font-size="24.8" >48h</text>
<text transform="translate(611.30 1049.80) scale(1.0573 1)" font-size="24.8" >72h</text>
<text transform="translate(413.50 796.41) scale(0.95 1.2)" font-size="23.0" text-anchor="middle" class="m">*</text>
<rect x="674.85" y="595.05" width="13.3" height="12.1" fill="#fff"/>
<rect x="674.85" y="595.05" width="13.3" height="12.1" fill="none" stroke="#000" stroke-width="2.3"/>
<text transform="translate(693.60 609.60) scale(1.0306 1)" font-size="25.5" word-spacing="-3.2" >1.25% Control</text>
<rect x="674.85" y="637.80" width="13.3" height="12.1" fill="#fff"/>
<clipPath id="c20"><rect x="674.85" y="637.80" width="13.30" height="12.10"/></clipPath>
<g clip-path="url(#c20)" fill="none" stroke="#000">
<path d="M672.52,638.17H689.15M672.52,647.92H689.15M675.56,637.56V650.90M685.31,637.56V650.90" stroke-width="1.5" stroke="#1e1e1e" stroke-dasharray="1.450 0.987"/>
</g>
<rect x="674.85" y="637.80" width="13.3" height="12.1" fill="none" stroke="#000" stroke-width="2.3"/>
<text transform="translate(693.60 651.30) scale(1.0292 1)" font-size="25.5" word-spacing="-3.2" >1.25% XFZY-CS</text>
</g>
</svg></body></html>
